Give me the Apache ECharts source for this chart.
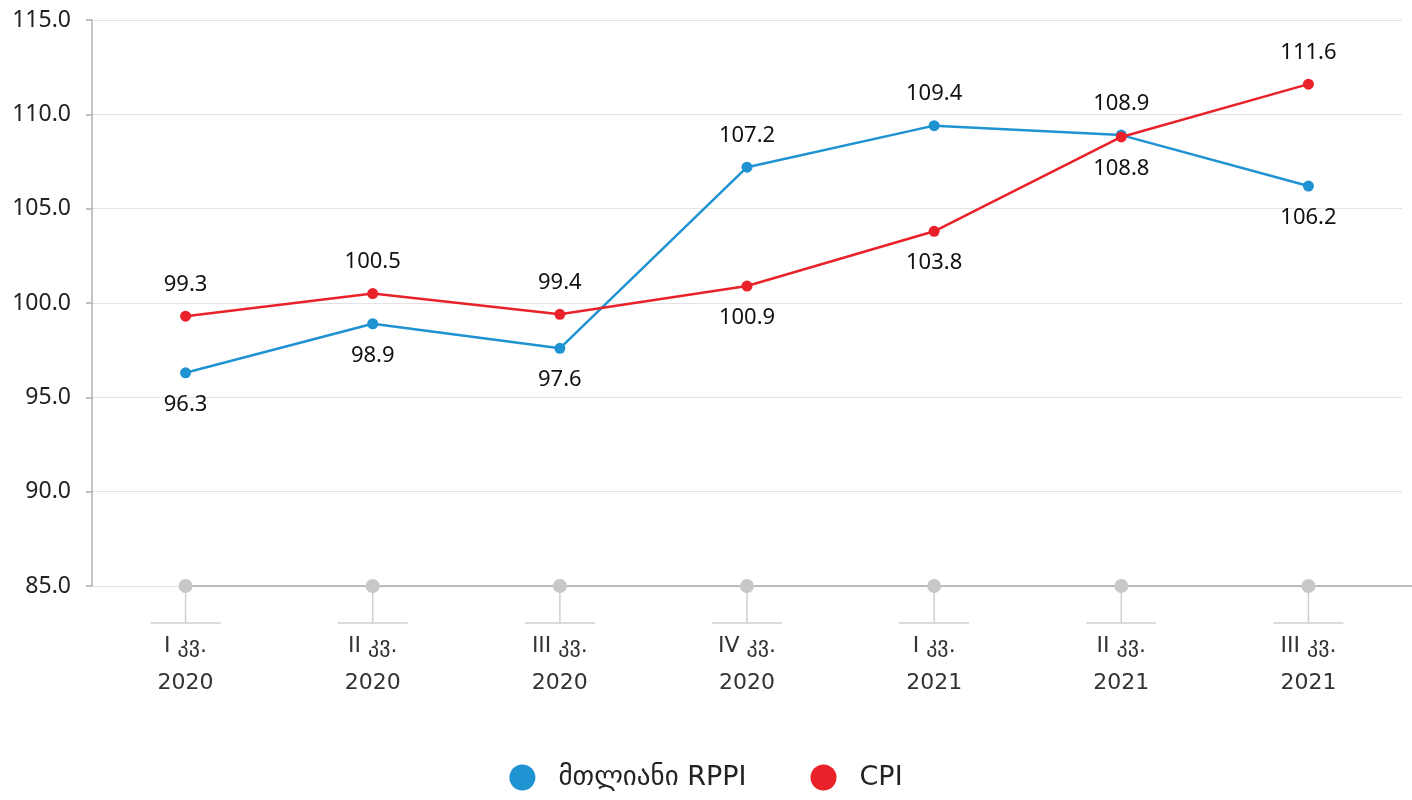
<!DOCTYPE html>
<html>
<head>
<meta charset="utf-8">
<script src="https://cdn.jsdelivr.net/npm/echarts@6/dist/echarts.min.js"></script>
<style>
html,body{margin:0;padding:0;background:#fff;}
#chart{width:1412px;height:800px;}
</style>
</head>
<body>
<div id="chart"></div>
<script>
// quarters
var categories=["I კვ.\n2020","II კვ.\n2020","III კვ.\n2020","IV კვ.\n2020","I კვ.\n2021","II კვ.\n2021","III კვ.\n2021"];
var rppi=[96.3,98.9,97.6,107.2,109.4,108.9,106.2];
var cpi=[99.3,100.5,99.4,100.9,103.8,108.8,111.6];
var seriesNames=["მთლიანი RPPI","CPI"];
var yMin=85, yMax=115, yStep=5;

var FONT='"Noto Sans","DejaVu Sans",sans-serif';
var GEO='"DejaVu Sans",sans-serif';

// label goes above for the higher of the two lines, below for the lower one
function labelled(vals,other){
    var out=[];
    for(var i=0;i<vals.length;i++){
        out.push({value:vals[i],label:{position:vals[i]>=other[i]?'top':'bottom'}});
    }
    return out;
}

var chart=echarts.init(document.getElementById('chart'));

var option={
    backgroundColor:'#fff',
    animation:false,
    textStyle:{fontFamily:FONT},
    grid:{left:92,right:10,top:20,bottom:214},
    legend:{
        data:seriesNames,
        bottom:4,
        left:'center',
        icon:'circle',
        itemWidth:26,
        itemHeight:26,
        itemGap:64,
        textStyle:{fontSize:27,color:'#222',fontFamily:GEO,padding:[0,0,0,18]}
    },
    xAxis:{
        type:'category',
        data:categories,
        boundaryGap:true,
        axisLine:{show:false},
        axisTick:{show:false},
        axisLabel:{margin:42,fontSize:22,color:'#333',lineHeight:37,fontFamily:GEO}
    },
    yAxis:{
        type:'value',
        min:yMin,
        max:yMax,
        interval:yStep,
        axisLine:{show:true,lineStyle:{color:'#b0b0b0',width:1.5}},
        axisTick:{show:true,length:6,lineStyle:{color:'#b0b0b0',width:1.5}},
        axisLabel:{margin:21,fontSize:23,color:'#222',fontFamily:FONT,
            formatter:function(v){return v.toFixed(1);}},
        splitLine:{show:true,lineStyle:{color:'#e3e3e3',width:1.2}}
    },
    series:[
        {
            name:'base',
            type:'custom',
            silent:true,
            clip:false,
            z:1,
            data:categories.map(function(c,i){return [i,yMin];}),
            renderItem:function(params,api){
                var p=api.coord([api.value(0),api.value(1)]);
                var right=api.coord([categories.length-0.5,yMin]);
                var left=api.coord([-0.5,yMin]);
                var children=[
                    {type:'line',shape:{x1:p[0],y1:p[1],x2:p[0],y2:p[1]+37},style:{stroke:'#cfcfcf',lineWidth:1.5}},
                    {type:'line',shape:{x1:p[0]-35,y1:p[1]+37,x2:p[0]+35,y2:p[1]+37},style:{stroke:'#cfcfcf',lineWidth:1.5}},
                    {type:'circle',shape:{cx:p[0],cy:p[1],r:7},style:{fill:'#c8c8c8'},z2:5}
                ];
                if(params.dataIndex===0){
                    children.unshift({type:'line',shape:{x1:left[0]-6,y1:p[1],x2:right[0]+10,y2:p[1]},style:{stroke:'#a8a8a8',lineWidth:1.5}});
                }
                return {type:'group',children:children};
            }
        },
        {
            name:seriesNames[0],
            type:'line',
            z:3,
            data:labelled(rppi,cpi),
            color:'#1f93d2',
            symbol:'circle',
            symbolSize:11,
            lineStyle:{width:2.5},
            label:{show:true,distance:15,fontSize:22,color:'#111',fontFamily:FONT,
                formatter:function(p){return p.value.toFixed(1);}}
        },
        {
            name:seriesNames[1],
            type:'line',
            z:4,
            data:labelled(cpi,rppi),
            color:'#e9222a',
            symbol:'circle',
            symbolSize:11,
            lineStyle:{width:2.5},
            label:{show:true,distance:15,fontSize:22,color:'#111',fontFamily:FONT,
                formatter:function(p){return p.value.toFixed(1);}}
        }
    ]
};
chart.setOption(option);
</script>
</body>
</html>
